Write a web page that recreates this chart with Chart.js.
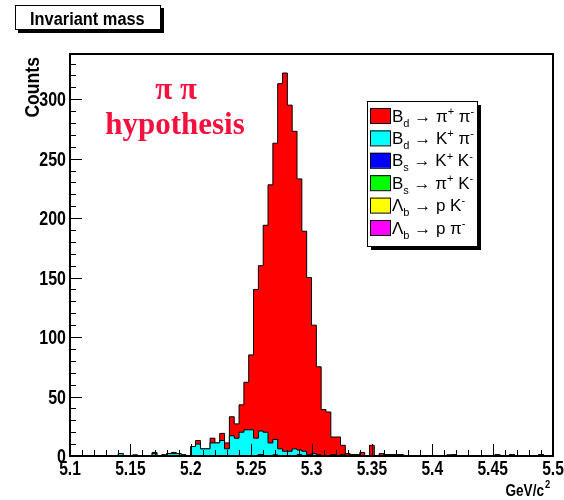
<!DOCTYPE html>
<html>
<head>
<meta charset="utf-8">
<script src="https://cdn.jsdelivr.net/npm/chart.js@4.4.1/dist/chart.umd.min.js"></script>
<style>
  body { margin: 0; background: #fff; }
  canvas { display: block; }
</style>
</head>
<body>
<canvas id="massChart" width="564" height="500"></canvas>
<script>
// binning of the histogram (GeV/c^2)
const massMin = 5.1;
const massMax = 5.5;
const nBins = 100;

// bin contents, one array per decay channel
const bdPiPi = [
  0, 0, 0, 0, 0, 0, 0, 0, 0, 0,
  0, 0, 0, 1, 0, 0, 0, 1, 0, 0,
  0, 1, 0, 0, 0, 0, 3, 0, 0, 4,
  0, 6, 5, 16, 12, 23, 40, 63, 125, 139,
  174, 217, 249, 307, 318, 291, 267, 228, 185, 149,
  108, 74, 39, 37, 15, 16, 8, 2, 0, 0,
  3, 0, 9, 0, 2, 0, 0, 0, 0, 0,
  0, 0, 0, 0, 0, 0, 0, 0, 1, 0,
  0, 0, 0, 0, 0, 0, 0, 0, 0, 0,
  0, 0, 0, 0, 0, 0, 0, 0, 0, 0
];
const bdKPi = [
  0, 0, 0, 0, 0, 0, 0, 0, 0, 0,
  2, 0, 0, 0, 0, 0, 0, 2, 0, 1,
  2, 2, 2, 1, 0, 8, 10, 6, 6, 11,
  11, 13, 6, 17, 15, 20, 22, 22, 15, 20,
  20, 11, 13, 6, 4, 4, 6, 4, 4, 1,
  2, 1, 0, 0, 0, 0, 0, 0, 0, 0,
  0, 0, 0, 0, 0, 0, 0, 0, 0, 0,
  0, 0, 0, 0, 0, 0, 0, 0, 0, 0,
  0, 0, 0, 0, 0, 0, 0, 0, 0, 0,
  0, 0, 0, 0, 0, 0, 0, 0, 0, 0
];
const bsKK = [
  0, 0, 0, 0, 0, 0, 0, 0, 0, 0,
  0, 0, 0, 0, 0, 0, 0, 0, 0, 0,
  0, 0, 0, 0, 0, 0, 0, 0, 0, 0,
  0, 0, 0, 0, 0, 0, 0, 0, 0, 0,
  0, 0, 1, 0, 0, 0, 0, 0, 0, 0,
  0, 0, 0, 0, 0, 0, 0, 0, 0, 0,
  0, 0, 0, 0, 0, 0, 0, 0, 1, 0,
  0, 0, 0, 0, 0, 0, 0, 0, 0, 0,
  0, 0, 0, 0, 0, 0, 0, 0, 0, 0,
  0, 0, 0, 0, 0, 0, 0, 0, 0, 0
];
const bsPiK = [
  0, 0, 0, 0, 0, 0, 0, 0, 0, 0,
  0, 0, 0, 0, 0, 0, 0, 0, 0, 0,
  0, 0, 0, 0, 0, 0, 0, 0, 0, 0,
  0, 0, 0, 0, 0, 0, 0, 0, 0, 0,
  0, 0, 0, 0, 0, 0, 0, 1, 0, 0,
  0, 0, 0, 0, 1, 0, 1, 0, 1, 1,
  0, 0, 0, 0, 0, 1, 1, 1, 0, 0,
  0, 0, 0, 0, 0, 0, 0, 0, 0, 0,
  0, 0, 0, 0, 0, 0, 0, 0, 0, 0,
  0, 0, 0, 0, 0, 0, 0, 0, 0, 0
];
const lbPK = [
  0, 0, 0, 0, 0, 0, 0, 0, 0, 0,
  0, 0, 0, 0, 0, 0, 0, 0, 0, 0,
  0, 0, 0, 0, 0, 0, 0, 0, 0, 0,
  0, 0, 0, 0, 0, 0, 0, 0, 0, 0,
  0, 0, 0, 0, 0, 0, 0, 0, 0, 0,
  0, 0, 0, 0, 0, 0, 0, 0, 0, 0,
  0, 0, 0, 0, 0, 0, 0, 0, 0, 0,
  0, 0, 0, 0, 0, 0, 0, 0, 0, 0,
  0, 0, 0, 0, 0, 0, 0, 0, 0, 0,
  0, 0, 0, 0, 0, 0, 0, 0, 0, 0
];
const lbPPi = [
  0, 0, 0, 0, 0, 0, 0, 0, 0, 0,
  0, 0, 0, 0, 0, 0, 0, 0, 0, 0,
  0, 0, 0, 0, 0, 0, 0, 0, 0, 0,
  0, 0, 0, 0, 0, 0, 0, 0, 0, 1,
  0, 0, 0, 0, 0, 0, 0, 0, 0, 0,
  0, 0, 0, 0, 0, 0, 0, 0, 0, 0,
  0, 0, 0, 0, 0, 0, 0, 0, 0, 0,
  0, 0, 0, 0, 0, 0, 0, 0, 0, 1,
  0, 0, 0, 0, 0, 0, 0, 0, 1, 0,
  0, 1, 0, 0, 0, 0, 0, 1, 0, 0
];

// legend labels (_{..} subscript, ^{..} superscript) and fill colours
const channelNames = [
  'B_{d} \u2192 \u03c0^{+} \u03c0^{-}',
  'B_{d} \u2192 K^{+} \u03c0^{-}',
  'B_{s} \u2192 K^{+} K^{-}',
  'B_{s} \u2192 \u03c0^{+} K^{-}',
  '\u039b_{b} \u2192 p K^{-}',
  '\u039b_{b} \u2192 p \u03c0^{-}'
];
const channelData = [bdPiPi, bdKPi, bsKK, bsPiK, lbPK, lbPPi];
const channelColors = ['#ff0000', '#00ffff', '#0000ff', '#00ff00', '#ffff00', '#ff00ff'];

// axis ticks
const massTicks = ['5.1', '5.15', '5.2', '5.25', '5.3', '5.35', '5.4', '5.45', '5.5'];
const countTicks = ['0', '50', '100', '150', '200', '250', '300'];
const countMax = 338;

// stack: last channel at the bottom, first channel (Bd -> pi pi) on top.
// Chart.js draws dataset 0 last, so the smallest partial sum goes first.
const binWidth = (massMax - massMin) / nBins;
const datasets = [];
let running = new Array(nBins).fill(0);
for (let c = channelData.length - 1; c >= 0; c--) {
  running = running.map((v, i) => v + channelData[c][i]);
  const pts = running.map((v, i) => ({ x: massMin + i * binWidth, y: v }));
  pts.push({ x: massMax, y: running[nBins - 1] });
  datasets.push({
    label: channelNames[c],
    data: pts,
    stepped: true,
    fill: 'origin',
    backgroundColor: channelColors[c],
    borderColor: '#000',
    borderWidth: 1,
    pointRadius: 0
  });
}

const sans = '"Liberation Sans", Arial, Helvetica, sans-serif';
const serif = '"Liberation Serif", "Times New Roman", serif';

// text squeezed horizontally, like ROOT's helvetica
function narrowText(ctx, text, x, y, align, sx) {
  ctx.save();
  ctx.translate(x, y);
  ctx.scale(sx, 1);
  ctx.textAlign = align;
  ctx.fillText(text, 0, 0);
  ctx.restore();
}

// draws "B_{d} -> pi^{+}" style labels
function richText(ctx, str, x, y, size) {
  const parts = str.split(/(_\{[^}]*\}|\^\{[^}]*\})/).filter(s => s.length);
  ctx.textAlign = 'left';
  parts.forEach(p => {
    let dy = 0, fs = size;
    if (p[0] === '_') { dy = size * 0.3; fs = size * 0.65; p = p.slice(2, -1); }
    else if (p[0] === '^') { dy = -size * 0.4; fs = size * 0.65; p = p.slice(2, -1); }
    ctx.font = fs + 'px ' + sans;
    ctx.fillText(p, x, y + dy);
    x += ctx.measureText(p).width;
  });
}

const rootFrame = {
  id: 'rootFrame',
  afterDraw(chart) {
    const ctx = chart.ctx;
    const a = chart.chartArea;
    const xs = chart.scales.x;
    const ys = chart.scales.y;
    ctx.save();
    ctx.strokeStyle = '#000';
    ctx.fillStyle = '#000';

    // frame
    ctx.lineWidth = 2;
    ctx.strokeRect(a.left, a.top, a.right - a.left, a.bottom - a.top);

    // ticks drawn inside the frame
    ctx.lineWidth = 1;
    ctx.beginPath();
    for (let k = 0; k <= 40; k++) {
      const px = Math.round(xs.getPixelForValue(massMin + k * 0.01)) + 0.5;
      const len = k % 5 === 0 ? 12 : 6;
      ctx.moveTo(px, a.bottom);
      ctx.lineTo(px, a.bottom - len);
    }
    for (let k = 0; k * 10 <= countMax; k++) {
      const py = Math.round(ys.getPixelForValue(k * 10)) + 0.5;
      const len = k % 5 === 0 ? 12 : 6;
      ctx.moveTo(a.left, py);
      ctx.lineTo(a.left + len, py);
    }
    ctx.stroke();

    // tick labels
    ctx.font = 'bold 20px ' + sans;
    massTicks.forEach(t => {
      narrowText(ctx, t, xs.getPixelForValue(parseFloat(t)), a.bottom + 19, 'center', 0.78);
    });
    countTicks.forEach(t => {
      narrowText(ctx, t, a.left - 4, ys.getPixelForValue(parseFloat(t)) + 7, 'right', 0.8);
    });

    // axis titles
    ctx.font = 'bold 20px ' + sans;
    ctx.save();
    ctx.translate(39, a.top + 3);
    ctx.rotate(-Math.PI / 2);
    narrowText(ctx, 'Counts', 0, 0, 'right', 0.88);
    ctx.restore();
    ctx.font = 'bold 16px ' + sans;
    narrowText(ctx, 'GeV/c', a.right - 9, 496, 'right', 0.85);
    ctx.font = 'bold 11px ' + sans;
    narrowText(ctx, '2', a.right - 8, 488, 'left', 0.85);

    // title box
    ctx.fillRect(18, 8, 146, 25);
    ctx.fillStyle = '#fff';
    ctx.fillRect(15, 5, 146, 25);
    ctx.strokeRect(15.5, 5.5, 145, 24);
    ctx.fillStyle = '#000';
    ctx.font = 'bold 18px ' + sans;
    narrowText(ctx, 'Invariant mass', 30, 25, 'left', 0.91);

    // hypothesis label
    ctx.fillStyle = '#f5113d';
    ctx.font = 'bold 31px ' + serif;
    ctx.textAlign = 'center';
    ctx.fillText('\u03c0 \u03c0', 176, 99);
    ctx.fillText('hypothesis', 175, 134);

    // legend box with shadow
    const lx = 367, ly = 101, lw = 110, lh = 145;
    ctx.fillStyle = '#000';
    ctx.fillRect(lx + 4, ly + 4, lw, lh);
    ctx.fillStyle = '#fff';
    ctx.fillRect(lx, ly, lw, lh);
    ctx.strokeRect(lx + 0.5, ly + 0.5, lw, lh);
    channelNames.forEach((name, i) => {
      const cy = 115.5 + i * 22.4;
      ctx.fillStyle = channelColors[i];
      ctx.fillRect(370, cy - 7.5, 20, 15);
      ctx.strokeRect(370.5, cy - 7, 20, 15);
      ctx.fillStyle = '#000';
      richText(ctx, name, 392, cy + 6, 17);
    });
    ctx.restore();
  }
};

const ctx = document.getElementById('massChart').getContext('2d');
new Chart(ctx, {
  type: 'line',
  data: { datasets: datasets },
  options: {
    responsive: false,
    animation: false,
    events: [],
    layout: { padding: { left: 70, top: 54, right: 11, bottom: 44 } },
    elements: { line: { tension: 0 } },
    plugins: {
      legend: { display: false },
      tooltip: { enabled: false }
    },
    scales: {
      x: { type: 'linear', min: massMin, max: massMax, display: false },
      y: { min: 0, max: countMax, display: false }
    }
  },
  plugins: [rootFrame]
});
</script>
</body>
</html>
